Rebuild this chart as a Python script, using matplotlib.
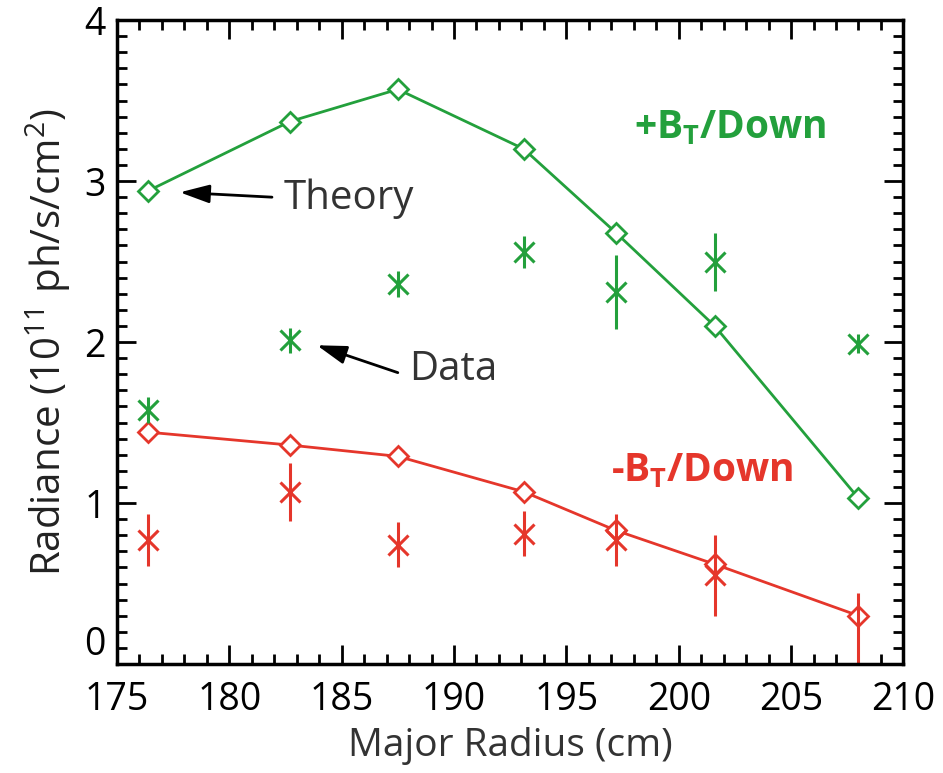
import matplotlib
matplotlib.use("Agg")
import matplotlib.pyplot as plt
from matplotlib.ticker import MultipleLocator

plt.rcParams['font.family'] = ['Open Sans', 'DejaVu Sans']
plt.rcParams['mathtext.fontset'] = 'custom'
plt.rcParams['mathtext.rm'] = 'Open Sans'
plt.rcParams['mathtext.bf'] = 'Open Sans:bold'

# major radius positions (cm)
radius = [176.4, 182.7, 187.5, 193.1, 197.2, 201.6, 208.0]

# theory curves
theory_up = [2.94, 3.37, 3.57, 3.20, 2.68, 2.10, 1.03]
theory_dn = [1.44, 1.36, 1.29, 1.07, 0.83, 0.62, 0.30]

# measured data with errors
data_up = [1.58, 2.01, 2.36, 2.56, 2.31, 2.50, 1.99]
err_up = [0.08, 0.08, 0.08, 0.10, 0.23, 0.18, 0.06]
data_dn = [0.77, 1.07, 0.74, 0.81, 0.77, 0.55, -0.06]
err_dn = [0.16, 0.18, 0.14, 0.14, 0.16, 0.25, 0.50]

y_ticks = [0, 1, 2, 3, 4]

green = '#23a03c'
red = '#e5362b'

fig = plt.figure(figsize=(9.43, 7.73), dpi=100)
ax = fig.add_axes([0.124, 0.141, 0.834, 0.833])

ax.plot(radius, theory_up, color=green, lw=2, marker='D', ms=10,
        mfc='white', mec=green, mew=2)
ax.plot(radius, theory_dn, color=red, lw=2, marker='D', ms=10,
        mfc='white', mec=red, mew=2)
ax.errorbar(radius, data_up, yerr=err_up, fmt='x', color=green, ms=14,
            mew=2.2, elinewidth=2.2, capsize=0)
ax.errorbar(radius, data_dn, yerr=err_dn, fmt='x', color=red, ms=14,
            mew=2.2, elinewidth=2.2, capsize=0)

ax.set_xlim(175, 210)
ax.set_ylim(0, 4)
ax.xaxis.set_major_locator(MultipleLocator(5))
ax.xaxis.set_minor_locator(MultipleLocator(1))
ax.set_yticks(y_ticks)
ax.yaxis.set_minor_locator(MultipleLocator(0.1))
ax.tick_params(which='both', direction='in', top=True, right=True,
               width=2, labelsize=27, colors='black')
ax.tick_params(which='major', length=14, pad=8)
ax.tick_params(axis='x', which='major', pad=12)
ax.tick_params(which='minor', length=7)
for s in ax.spines.values():
    s.set_linewidth(2.5)
# lift the "0" label so it sits above the x labels
ax.yaxis.get_major_ticks()[0].label1.set_verticalalignment('bottom')

ax.set_xlabel('Major Radius (cm)', fontsize=28, color='#333333', labelpad=6)
ax.set_ylabel('Radiance (10$^{11}$ ph/s/cm$^2$)', fontsize=29,
              color='#222222', labelpad=8)

arrow = dict(arrowstyle='-|>,head_length=0.9,head_width=0.28',
             color='black', lw=2, mutation_scale=20, shrinkA=0, shrinkB=0)
ax.annotate('', xy=(177.8, 2.93), xytext=(181.9, 2.90), arrowprops=arrow)
ax.annotate('', xy=(183.9, 1.98), xytext=(187.5, 1.81), arrowprops=arrow)
ax.text(182.4, 2.89, 'Theory', fontsize=29, color='#333333', va='center')
ax.text(188.0, 1.83, 'Data', fontsize=29, color='#333333', va='center')

ax.text(198.0, 3.33, r'+B$_\mathbf{T}$/Down', fontsize=28, fontweight='bold',
        color=green, va='center')
ax.text(197.0, 1.20, r'-B$_\mathbf{T}$/Down', fontsize=28, fontweight='bold',
        color=red, va='center')

fig.savefig('out.png', dpi=100)
